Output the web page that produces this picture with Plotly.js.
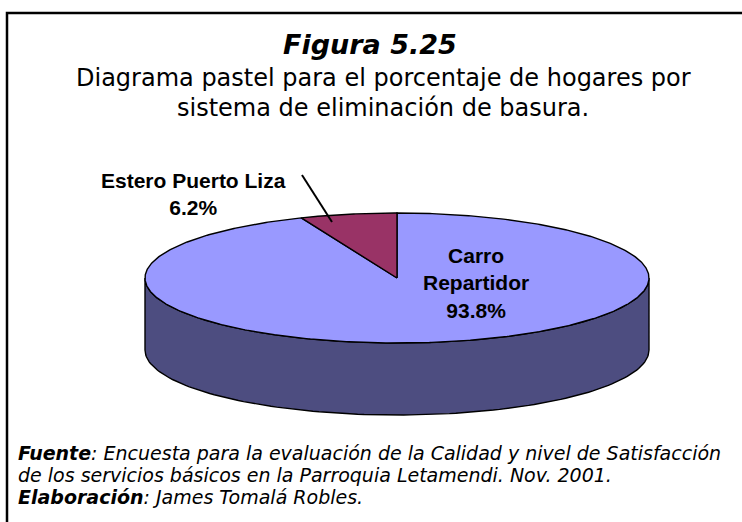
<!DOCTYPE html>
<html><head><meta charset="utf-8">
<script src="https://cdn.plot.ly/plotly-3.0.1.min.js"></script>
<style>html,body{margin:0;padding:0;background:#fff;} #chart{width:742px;height:522px;}</style>
</head><body><div id="chart"></div>
<script>
// ---- data ----
const categories = ["Carro Repartidor", "Estero Puerto Liza"];
const labelLines = [["Carro", "Repartidor"], ["Estero Puerto Liza"]];
const values = [93.8, 6.2];
const sliceColors = ["#9999FF", "#993366"];
const sideColors = ["#4D4D80", "#4C1A33"];
const titleLines = ["Figura 5.25", "Diagrama pastel para el porcentaje de hogares por", "sistema de eliminación de basura."];
const sourceText = ["Encuesta para la evaluación de la Calidad y nivel de Satisfacción", "de los servicios básicos en la Parroquia Letamendi. Nov. 2001."];
const authorText = "James Tomalá Robles.";

// ---- geometry (pixel space) ----
const W = 742, H = 522;
const cx = 397, cy = 278, ra = 252, rb = 65, depth = 72;
const total = values.reduce((s, v) => s + v, 0);
const deg = Math.PI / 180;
function pt(theta, dy) { return [cx + ra * Math.cos(theta * deg), cy - rb * Math.sin(theta * deg) + (dy || 0)]; }

const traces = [];
// slices: start at 12 o'clock, clockwise
let start = 90;
const slices = values.map((v, i) => {
  const sweep = v / total * 360;
  const s = { i, a0: start - sweep, a1: start };
  start -= sweep;
  return s;
});

// side walls (front half: angles -180..0)
slices.forEach(s => {
  for (const off of [-360, 0, 360]) {
    const lo = Math.max(s.a0 + off, -180), hi = Math.min(s.a1 + off, 0);
    if (hi > lo) {
      const xs = [], ys = [];
      for (let t = lo; t <= hi + 1e-9; t += (hi - lo) / 120) { const p = pt(t, 0); xs.push(p[0]); ys.push(p[1]); }
      for (let t = hi; t >= lo - 1e-9; t -= (hi - lo) / 120) { const p = pt(t, depth); xs.push(p[0]); ys.push(p[1]); }
      xs.push(xs[0]); ys.push(ys[0]);
      traces.push({ type: 'scatter', mode: 'lines', x: xs, y: ys, fill: 'toself', fillcolor: sideColors[s.i],
        line: { color: '#000', width: 1.4 }, hoverinfo: 'skip', showlegend: false });
    }
  }
});

// top faces
slices.forEach(s => {
  const xs = [cx], ys = [cy];
  const n = Math.max(8, Math.round((s.a1 - s.a0) * 2));
  for (let k = 0; k <= n; k++) { const p = pt(s.a0 + (s.a1 - s.a0) * k / n, 0); xs.push(p[0]); ys.push(p[1]); }
  xs.push(cx); ys.push(cy);
  traces.push({ type: 'scatter', mode: 'lines', x: xs, y: ys, fill: 'toself', fillcolor: sliceColors[s.i],
    line: { color: '#000', width: 1.4 }, name: categories[s.i], hoverinfo: 'name', showlegend: false });
});

// leader line for small slice
const small = slices[1];
const mid = (small.a0 + small.a1) / 2;
const endPt = [cx + 0.9 * ra * Math.cos((mid + 5.5) * deg), cy - 0.9 * rb * Math.sin((mid + 5.5) * deg)];
traces.push({ type: 'scatter', mode: 'lines', x: [endPt[0] - 30, endPt[0]], y: [endPt[1] - 47, endPt[1]],
  line: { color: '#000', width: 2 }, hoverinfo: 'skip', showlegend: false });

const pct = v => v.toFixed(1) + '%';
const labFont = { family: 'Liberation Sans, Arial, sans-serif', size: 21, color: '#000', weight: 'bold' };
const tFont = { family: 'DejaVu Sans, Verdana, sans-serif', size: 24, color: '#000' };
const fFont = { family: 'DejaVu Sans, Verdana, sans-serif', size: 19, color: '#000', style: 'italic' };
const ann = (x, y, text, font, extra) => Object.assign({ x, y, xref: 'x', yref: 'y', showarrow: false, text, font }, extra || {});
const annotations = [
  ann(193, 194, labelLines[1].join('<br>') + '<br>' + pct(values[1]), labFont, { align: 'center' }),
  ann(476, 283, labelLines[0].join('<br>') + '<br>' + pct(values[0]), labFont, { align: 'center' }),
  ann(370, 44, '<b><i>' + titleLines[0] + '</i></b>', Object.assign({}, tFont, { size: 27 })),
  ann(383, 78, titleLines[1], tFont),
  ann(383, 108, titleLines[2], tFont),
  ann(16, 453, '<b>Fuente</b>: ' + sourceText[0], fFont, { xanchor: 'left' }),
  ann(16, 475, sourceText[1], fFont, { xanchor: 'left' }),
  ann(16, 497, '<b>Elaboración</b>: ' + authorText, fFont, { xanchor: 'left' })
];

const layout = {
  width: W, height: H, margin: { l: 0, r: 0, t: 0, b: 0 },
  paper_bgcolor: '#fff', plot_bgcolor: '#fff',
  xaxis: { range: [0, W], visible: false, fixedrange: true },
  yaxis: { range: [H, 0], visible: false, fixedrange: true },
  annotations,
  shapes: [{ type: 'rect', xref: 'paper', yref: 'paper', x0: 7 / W, x1: 1.05, y0: -0.05, y1: 1 - 13 / H,
    line: { color: '#000', width: 2.5 }, fillcolor: 'rgba(0,0,0,0)' }]
};
Plotly.newPlot('chart', traces, layout, { displayModeBar: false, staticPlot: true });
</script></body></html>
